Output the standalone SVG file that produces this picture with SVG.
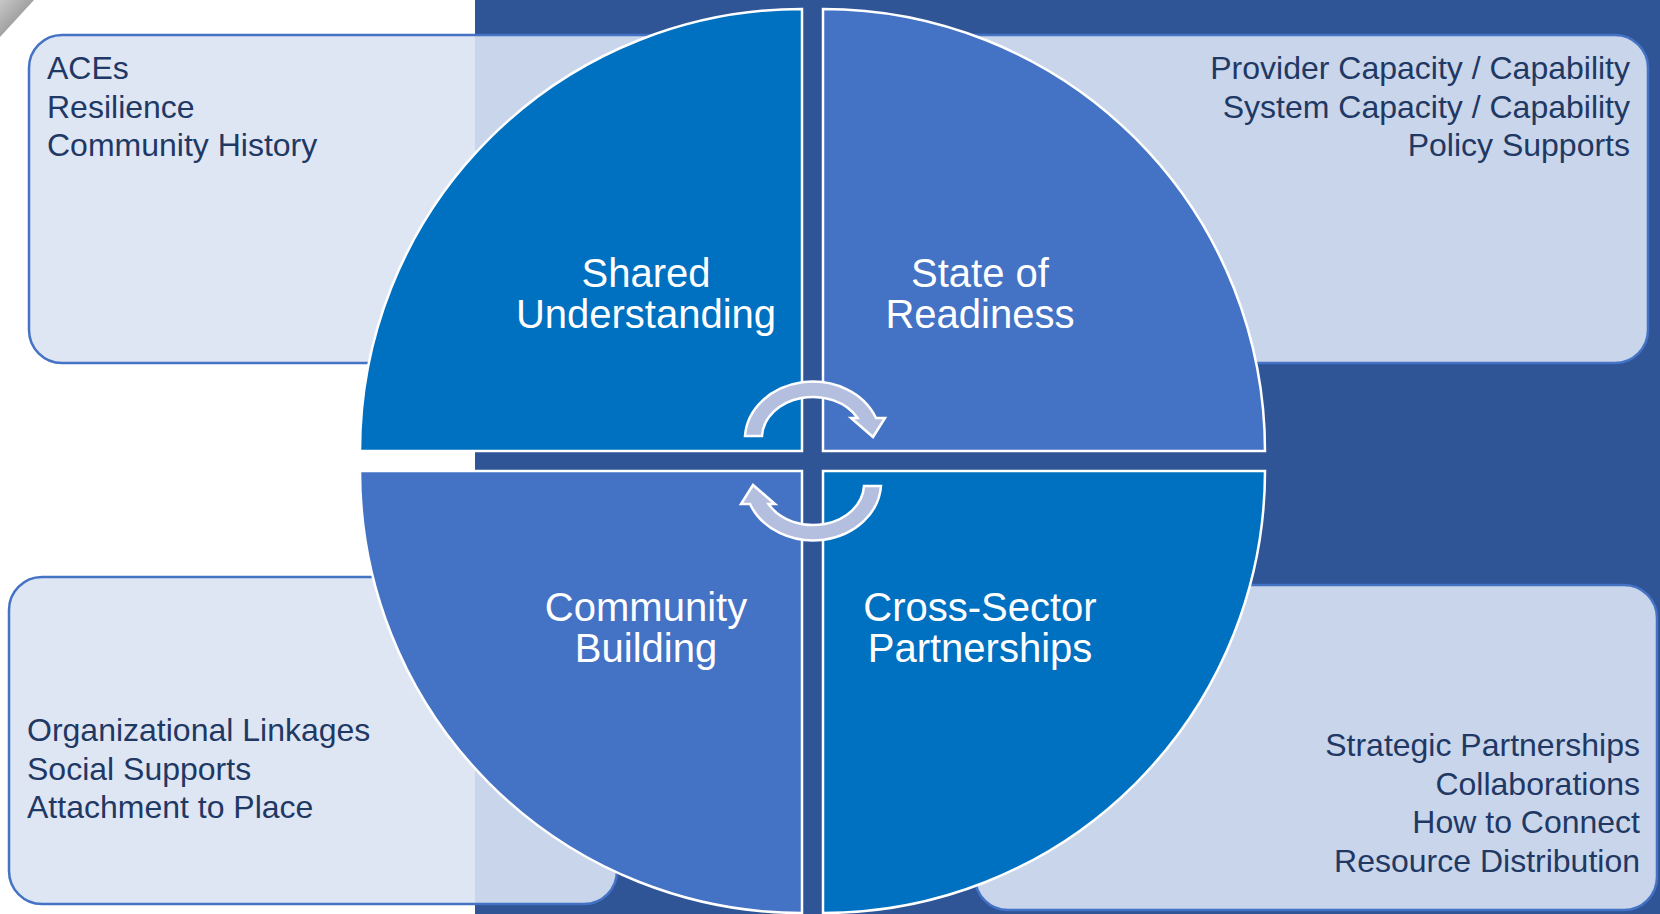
<svg xmlns="http://www.w3.org/2000/svg" width="1660" height="914" viewBox="0 0 1660 914">
<style>
.box{fill:#DAE3F3;fill-opacity:0.9;stroke:#4472C4;stroke-width:2.5}
.q1{fill:#0070C0;stroke:#FFFFFF;stroke-width:2.5}
.q2{fill:#4472C4;stroke:#FFFFFF;stroke-width:2.5}
.bt{font-family:"Liberation Sans",Arial,sans-serif;font-size:32px;fill:#1F3864}
.qt{font-family:"Liberation Sans",Arial,sans-serif;font-size:40px;fill:#FFFFFF;text-anchor:middle}
.arr{fill:#B4BFDF;stroke:#FFFFFF;stroke-width:2.5;stroke-linejoin:miter}
</style>
<defs>
<linearGradient id="curl" x1="0" y1="0" x2="1" y2="1">
<stop offset="0" stop-color="#C8C8C8"/>
<stop offset="0.6" stop-color="#9A9A9A"/>
<stop offset="1" stop-color="#E8E8E8"/>
</linearGradient>
</defs>
<rect x="0" y="0" width="1660" height="914" fill="#FFFFFF"/>
<rect x="475" y="0" width="1185" height="914" fill="#2F5597"/>
<polygon points="0,0 34,0 0,37" fill="url(#curl)"/>

<g id="box-top-left">
<rect class="box" x="29" y="35" width="760" height="328" rx="33"/>
<text class="bt" x="47" y="79">ACEs</text>
<text class="bt" x="47" y="117.5">Resilience</text>
<text class="bt" x="47" y="156">Community History</text>
</g>
<g id="box-top-right">
<rect class="box" x="840" y="35" width="808" height="328" rx="33"/>
<text class="bt" x="1630" y="79" text-anchor="end">Provider Capacity / Capability</text>
<text class="bt" x="1630" y="117.5" text-anchor="end">System Capacity / Capability</text>
<text class="bt" x="1630" y="156" text-anchor="end">Policy Supports</text>
</g>
<g id="box-bottom-left">
<rect class="box" x="9" y="577" width="608" height="327" rx="33"/>
<text class="bt" x="27" y="741">Organizational Linkages</text>
<text class="bt" x="27" y="779.5">Social Supports</text>
<text class="bt" x="27" y="818">Attachment to Place</text>
</g>
<g id="box-bottom-right">
<rect class="box" x="975" y="585" width="682" height="325" rx="33"/>
<text class="bt" x="1640" y="756" text-anchor="end">Strategic Partnerships</text>
<text class="bt" x="1640" y="794.5" text-anchor="end">Collaborations</text>
<text class="bt" x="1640" y="833" text-anchor="end">How to Connect</text>
<text class="bt" x="1640" y="871.5" text-anchor="end">Resource Distribution</text>
</g>

<g id="quad-shared-understanding">
<path class="q1" d="M802,451 L360,451 A442,442 0 0 1 802,9 Z"/>
<text class="qt" x="646" y="287">Shared</text>
<text class="qt" x="646" y="328">Understanding</text>
</g>
<g id="quad-state-of-readiness">
<path class="q2" d="M823,451 L823,9 A442,442 0 0 1 1265,451 Z"/>
<text class="qt" x="980" y="287">State of</text>
<text class="qt" x="980" y="328">Readiness</text>
</g>
<g id="quad-community-building">
<path class="q2" d="M802,471 L802,913 A442,442 0 0 1 360,471 Z"/>
<text class="qt" x="646" y="621">Community</text>
<text class="qt" x="646" y="662">Building</text>
</g>
<g id="quad-cross-sector">
<path class="q1" d="M823,471 L1265,471 A442,442 0 0 1 823,913 Z"/>
<text class="qt" x="980" y="621">Cross-Sector</text>
<text class="qt" x="980" y="662">Partnerships</text>
</g>

<g id="connectors">
<path id="arrow-top" class="arr" d="M745,436 A68,58 0 0 1 876,418 L885,418 L873,437 L851,418 L857.5,418 A51,41 0 0 0 762,436 Z"/>
<path id="arrow-bottom" class="arr" d="M745,436 A68,58 0 0 1 876,418 L885,418 L873,437 L851,418 L857.5,418 A51,41 0 0 0 762,436 Z" transform="rotate(180 813 461)"/>
</g>
</svg>
